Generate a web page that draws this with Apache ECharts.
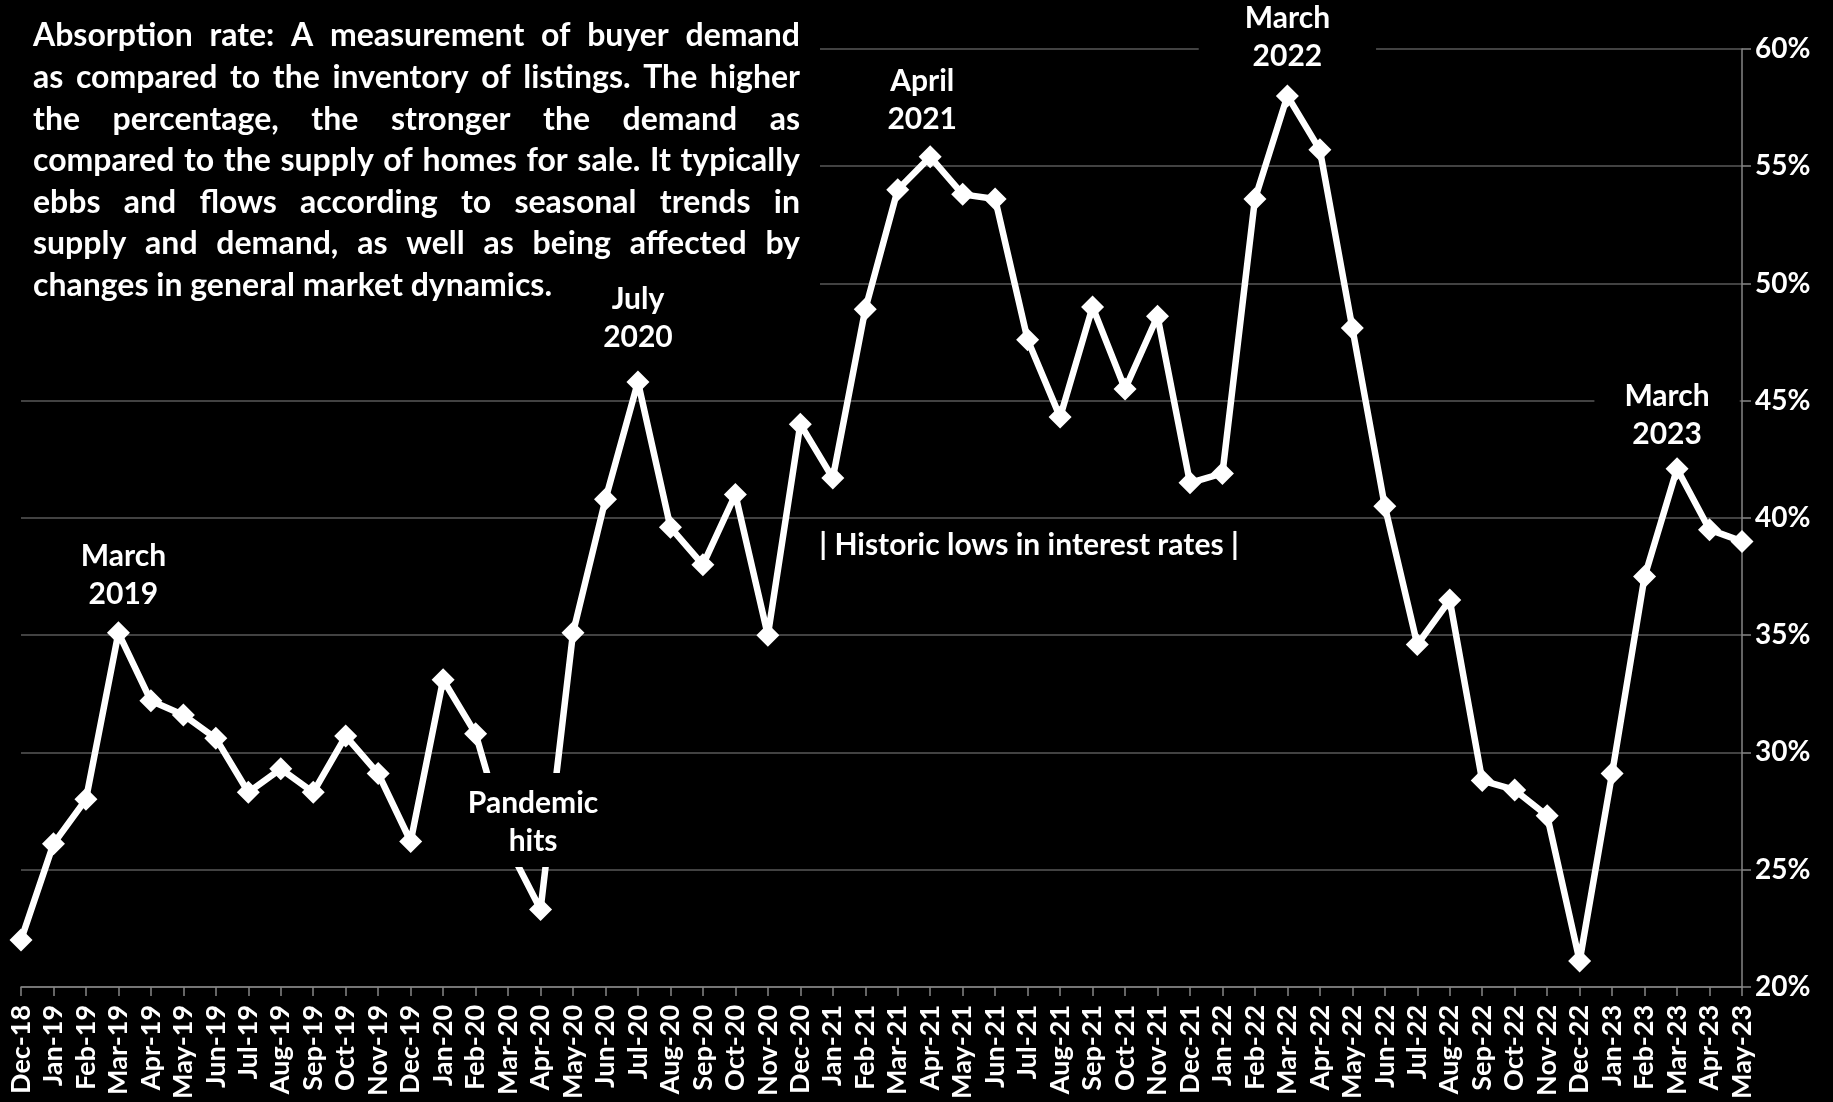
<!DOCTYPE html>
<html>
<head>
<meta charset="utf-8">
<script src="https://cdn.jsdelivr.net/npm/echarts@6/dist/echarts.min.js"></script>
<style>
  html, body { margin: 0; padding: 0; background: #000; }
  #chart { width: 1833px; height: 1102px; }
</style>
</head>
<body>
<div id="chart"></div>
<script>
// ---------- DATA ----------
const categories = [
  'Dec-18',
  'Jan-19','Feb-19','Mar-19','Apr-19','May-19','Jun-19','Jul-19','Aug-19','Sep-19','Oct-19','Nov-19','Dec-19',
  'Jan-20','Feb-20','Mar-20','Apr-20','May-20','Jun-20','Jul-20','Aug-20','Sep-20','Oct-20','Nov-20','Dec-20',
  'Jan-21','Feb-21','Mar-21','Apr-21','May-21','Jun-21','Jul-21','Aug-21','Sep-21','Oct-21','Nov-21','Dec-21',
  'Jan-22','Feb-22','Mar-22','Apr-22','May-22','Jun-22','Jul-22','Aug-22','Sep-22','Oct-22','Nov-22','Dec-22',
  'Jan-23','Feb-23','Mar-23','Apr-23','May-23'
];
const absorptionRate = [
  22.0,
  26.1, 28.0, 35.1, 32.2, 31.6, 30.6, 28.3, 29.3, 28.3, 30.7, 29.1, 26.2,
  33.1, 30.8, 26.0, 23.3, 35.1, 40.8, 45.8, 39.6, 38.0, 41.0, 35.0, 44.0,
  41.7, 48.9, 54.0, 55.4, 53.8, 53.6, 47.6, 44.3, 49.0, 45.5, 48.6, 41.5,
  41.9, 53.6, 58.0, 55.7, 48.1, 40.5, 34.6, 36.5, 28.8, 28.4, 27.3, 21.1,
  29.1, 37.5, 42.1, 39.5, 39.0
];
const yMin = 20, yMax = 60, yStep = 5;
const descriptionLines = [
  'Absorption rate:  A measurement of buyer demand',
  'as compared to the inventory of listings. The higher',
  'the percentage, the stronger the demand as',
  'compared to the supply of homes for sale. It typically',
  'ebbs and flows according to seasonal trends in',
  'supply and demand, as well as being affected by',
  'changes in general market dynamics.'
];
const annotationTexts = {
  mar19: 'March\n2019',
  pandemic: 'Pandemic\nhits',
  jul20: 'July\n2020',
  apr21: 'April\n2021',
  mar22: 'March\n2022',
  lows: '| Historic lows in interest rates |',
  mar23: 'March\n2023'
};

// ---------- CHART ----------
const FONT = 'Lato, "Noto Sans", sans-serif';
const chart = echarts.init(document.getElementById('chart'), null, { renderer: 'canvas' });

const option = {
  backgroundColor: '#000',
  animation: false,
  grid: { left: 21, right: 91, top: 49, bottom: 112, containLabel: false },
  xAxis: {
    type: 'category',
    data: categories,
    boundaryGap: false,
    axisLine: { show: true, lineStyle: { color: '#868686', width: 1.5 } },
    axisTick: { show: true, interval: 0, length: 9, lineStyle: { color: '#868686', width: 1.5 } },
    axisLabel: {
      interval: 0, rotate: 90, margin: 18,
      color: '#fff', fontFamily: FONT, fontWeight: 'bold', fontSize: 27
    },
    splitLine: { show: false }
  },
  yAxis: {
    type: 'value',
    position: 'right',
    min: yMin, max: yMax, interval: yStep,
    axisLine: { show: true, lineStyle: { color: '#868686', width: 1.5 } },
    axisTick: { show: true, length: 9, lineStyle: { color: '#868686', width: 1.5 } },
    axisLabel: {
      margin: 13, formatter: '{value}%',
      color: '#fff', fontFamily: FONT, fontWeight: 'bold', fontSize: 28
    },
    splitLine: { show: true, lineStyle: { color: '#595959', width: 1.5 } }
  },
  series: [{
    type: 'line',
    data: absorptionRate,
    symbol: 'diamond',
    symbolSize: 23,
    showAllSymbol: true,
    lineStyle: { color: '#fff', width: 6.5 },
    itemStyle: { color: '#fff', borderWidth: 0 },
    z: 3
  }]
};
chart.setOption(option);

// ---------- ANNOTATIONS ----------
const graphics = [];

// black box behind description (hides gridlines)
graphics.push({
  type: 'rect', z: 50,
  shape: { x: 0, y: 0, width: 820, height: 298 },
  style: { fill: '#000' }
});

// justified description text
(function () {
  const ctx = document.createElement('canvas').getContext('2d');
  const left = 33, boxW = 767, top = 36, lh = 41.6;
  let size = 30;
  const measure = (s) => { ctx.font = 'bold ' + size + 'px ' + FONT; return ctx.measureText(s).width; };
  let maxNat = 0;
  for (let i = 0; i < descriptionLines.length - 1; i++) {
    const w = descriptionLines[i].split(/\s+/);
    const nat = w.reduce((a, s) => a + measure(s), 0) + (w.length - 1) * measure(' ');
    maxNat = Math.max(maxNat, nat);
  }
  size = Math.min(32, Math.floor(size * (boxW - 4) / maxNat * 10) / 10);
  const font = 'bold ' + size + 'px ' + FONT;
  descriptionLines.forEach((line, i) => {
    const y = top + i * lh;
    if (i === descriptionLines.length - 1) {
      graphics.push({ type: 'text', z: 60, style: { text: line, x: left, y: y, fill: '#fff', font: font, align: 'left', verticalAlign: 'middle' } });
      return;
    }
    const words = line.split(/\s+/);
    const widths = words.map(measure);
    const total = widths.reduce((a, b) => a + b, 0);
    const gap = (boxW - total) / (words.length - 1);
    let x = left;
    words.forEach((w, k) => {
      graphics.push({ type: 'text', z: 60, style: { text: w, x: x, y: y, fill: '#fff', font: font, align: 'left', verticalAlign: 'middle' } });
      x += widths[k] + gap;
    });
  });
})();

function label(text, x, y, opts) {
  opts = opts || {};
  graphics.push({
    type: 'text', z: 70,
    style: Object.assign({
      text: text, x: x, y: y, fill: '#fff',
      font: 'bold 30px ' + FONT, align: 'center', verticalAlign: 'middle',
      lineHeight: 38
    }, opts)
  });
}
const px = (cat, v) => chart.convertToPixel({ gridIndex: 0 }, [cat, v]);

// black mask over the line where the "Pandemic hits" label sits
graphics.push({
  type: 'rect', z: 65,
  shape: { x: px('Mar-20', 26)[0] - 50, y: 773, width: 150, height: 94 },
  style: { fill: '#000' }
});
label(annotationTexts.mar19, px('Mar-19', 35)[0] + 5, 575);
label(annotationTexts.pandemic, px('Mar-20', 26)[0] + 25, 822);
label(annotationTexts.jul20, px('Jul-20', 45)[0], 318);
label(annotationTexts.apr21, px('Apr-21', 55)[0] - 8, 100);
label(annotationTexts.mar22, px('Mar-22', 58)[0], 37, { backgroundColor: '#000', padding: [6, 46] });
label(annotationTexts.lows, 1029, 545);
label(annotationTexts.mar23, px('Mar-23', 42)[0] - 10, 415, { backgroundColor: '#000', padding: [4, 30] });

chart.setOption({ graphic: { elements: graphics } });
</script>
</body>
</html>
